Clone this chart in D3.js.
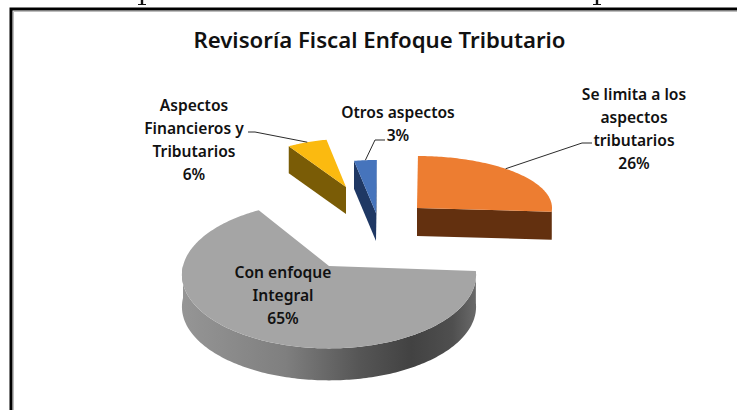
<!DOCTYPE html>
<html>
<head>
<meta charset="utf-8">
<script src="https://cdn.jsdelivr.net/npm/d3@7"></script>
<style>
  html, body { margin: 0; padding: 0; background: #fff; }
  svg { display: block; }
  text { font-family: "Noto Sans", sans-serif; fill: #111; }
</style>
</head>
<body>
<svg id="chart" width="737" height="410"></svg>
<script>
// Share of each focus, clockwise from the top of the pie
const categories = ["Se limita a los aspectos tributarios", "Con enfoque Integral", "Aspectos Financieros y Tributarios", "Otros aspectos"];
const shares = [26, 65, 6, 3];
const labelLines = [
  ["Se limita a los", "aspectos", "tributarios", "26%"],
  ["Con enfoque", "Integral", "65%"],
  ["Aspectos", "Financieros y", "Tributarios", "6%"],
  ["Otros aspectos", "3%"]
];
const chartTitle = "Revisoría Fiscal Enfoque Tributario";

// Exploded slice geometry: apex, radii on screen, perspective and thickness
const sliceShapes = [
  { cx: 417, cy: 208, rx: 135, ry: 52, k: 0, depth: 28, top: "#ED7D31", wall: "#63300f" },
  { cx: 329, cy: 266, rx: 146, ry: 72.5, k: 0.12, depth: 32, top: "#A5A5A5", wall: "url(#grayWall)" },
  { cx: 346, cy: 187, rx: 108, ry: 48, k: 0, depth: 27, top: "#FBBA10", wall: "#7a5c06" },
  { cx: 376, cy: 213, rx: 122, ry: 53, k: 0, depth: 28, top: "#4674BC", wall: "#1f3864" }
];

// Label placement and leader routes; leader angles run clockwise from the top
const labelBoxes = [
  { x: 634, y: 95 }, { x: 283, y: 273 }, { x: 194, y: 106 }, { x: 398, y: 113 }
];
const lineSteps = [23, 23, 23];
const leaders = [
  { at: 41, points: [[582, 143], [592, 143]] },
  null,
  { at: 339, points: [[255, 132], [248, 132]] },
  { at: 355, points: [[375, 140], [385, 140]] }
];

const svg = d3.select("#chart");
const rad = Math.PI / 180;

const defs = svg.append("defs");
const grad = defs.append("linearGradient").attr("id", "grayWall")
  .attr("gradientUnits", "userSpaceOnUse")
  .attr("x1", 183).attr("x2", 476).attr("y1", 0).attr("y2", 0);
[[0, "#959595"], [0.35, "#7f7f7f"], [0.6, "#565656"], [0.78, "#424242"], [0.92, "#4f4f4f"], [1, "#6a6a6a"]]
  .forEach(([o, c]) => grad.append("stop").attr("offset", o).attr("stop-color", c));

// Sheet frame: heavy rule on the top and left, thin grey shadow inside it
svg.append("path").attr("d", d3.line()([[11, 410], [11, 9], [737, 9]]))
  .attr("fill", "none").attr("stroke", "#000").attr("stroke-width", 3);
svg.append("path").attr("d", d3.line()([[13.5, 410], [13.5, 11.5], [737, 11.5]]))
  .attr("fill", "none").attr("stroke", "#bdbdbd").attr("stroke-width", 1);

// Feet of two letters from the line of body text cut by the top of the page
[142, 597].forEach(x => {
  svg.append("path").attr("d", d3.line()([[x, 0], [x, 4]])).attr("stroke", "#111").attr("stroke-width", 2.4);
  svg.append("path").attr("d", d3.line()([[x - 4, 4.5], [x + 4, 4.5]])).attr("stroke", "#111").attr("stroke-width", 1);
});

const pie = d3.pie().sort(null).startAngle(0.4 * rad).endAngle(360.4 * rad);
const arcs = pie(shares);

// Maps a clockwise-from-top angle and a radius fraction on to the tilted disc
const project = (s, a, r = 1, drop = 0) => {
  const u = Math.sin(a) * r, v = Math.cos(a) * r, w = 1 + s.k * v;
  return [s.cx + s.rx * u / w, s.cy - s.ry * v / w + drop];
};
const rim = (s, a0, a1, drop = 0) => {
  const n = Math.max(2, Math.ceil(Math.abs(a1 - a0) / rad));
  return d3.range(n + 1).map(i => project(s, a0 + (a1 - a0) * i / n, 1, drop));
};
const closed = d3.line().curve(d3.curveLinearClosed);

const order = [1, 0, 2, 3];
order.forEach(i => {
  const d = arcs[i], s = sliceShapes[i];
  const g = svg.append("g").attr("class", "slice");
  const apex = [s.cx, s.cy], apexLow = [s.cx, s.cy + s.depth];

  // Cut faces turned towards the viewer
  if (Math.sin(d.startAngle) < 0) {
    const e = project(s, d.startAngle), f = project(s, d.startAngle, 1, s.depth);
    g.append("path").attr("d", closed([apex, e, f, apexLow])).attr("fill", s.wall);
  }
  if (Math.sin(d.endAngle) > 0) {
    const e = project(s, d.endAngle), f = project(s, d.endAngle, 1, s.depth);
    g.append("path").attr("d", closed([apex, e, f, apexLow])).attr("fill", s.wall);
  }

  // Curved outer wall on the front half of the rim
  const a0 = Math.max(d.startAngle, 90 * rad), a1 = Math.min(d.endAngle, 270 * rad);
  if (a1 > a0) {
    const upper = rim(s, a0, a1), lower = rim(s, a1, a0, s.depth);
    g.append("path").attr("d", closed(upper.concat(lower))).attr("fill", s.wall);
  }

  // Top face
  g.append("path").attr("d", closed([apex].concat(rim(s, d.startAngle, d.endAngle)))).attr("fill", s.top);
});

// Leader lines
leaders.forEach((l, i) => {
  if (!l) return;
  const start = project(sliceShapes[i], l.at * rad);
  svg.append("path").attr("d", d3.line()([start].concat(l.points)))
    .attr("fill", "none").attr("stroke", "#2b2b2b").attr("stroke-width", 1);
});

// Title
svg.append("text").attr("x", 379.5).attr("y", 48).attr("text-anchor", "middle")
  .style("font-size", "22.2px").style("font-weight", 600).text(chartTitle);

// Data labels
labelLines.forEach((lines, i) => {
  const t = svg.append("text").attr("text-anchor", "middle")
    .style("font-size", "15.6px").style("font-weight", 600);
  lines.forEach((ln, j) => {
    t.append("tspan").attr("x", labelBoxes[i].x)
      .attr("y", labelBoxes[i].y + 5 + d3.sum(lineSteps.slice(0, j))).text(ln);
  });
});
</script>
</body>
</html>
